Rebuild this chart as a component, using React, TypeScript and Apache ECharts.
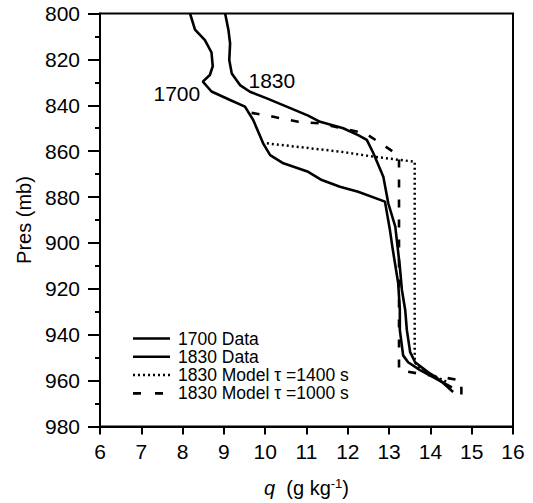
import React, { useEffect, useRef } from "react";
import * as echarts from "echarts";

const xTicks = [6, 16, 1];
const yTicks = [800, 980, 20];

const data1700: [number, number][] = [
  [8.18, 800], [8.3, 807], [8.54, 811.6], [8.7, 817], [8.73, 823], [8.66, 826.8],
  [8.49, 829.7], [8.7, 834], [9.15, 837.7], [9.51, 840.6], [9.71, 846.4], [9.95, 856.6],
  [10.12, 861.7], [10.44, 865.3], [11.04, 869], [11.37, 872.6], [11.81, 875.5],
  [12.25, 877.7], [12.9, 882], [13.02, 894.4], [13.09, 903], [13.22, 917.5],
  [13.26, 929], [13.26, 938], [13.34, 949], [13.46, 952], [13.75, 955.4],
  [14.11, 958.9], [14.52, 963],
];

const data1830: [number, number][] = [
  [9.03, 800], [9.11, 807.2], [9.15, 813], [9.13, 820.3], [9.19, 826.1], [9.39, 831.2],
  [9.63, 834.1], [10.04, 837], [10.52, 840.6], [11.04, 844.5], [11.33, 847.2],
  [11.89, 850], [12.25, 853], [12.46, 855.1], [12.62, 860.9], [12.86, 871.1],
  [12.98, 882.7], [13.15, 892.9], [13.26, 910.4], [13.31, 920.5], [13.39, 929.2],
  [13.43, 938], [13.51, 947.6], [13.63, 952], [13.94, 956.3], [14.23, 959.8], [14.55, 965],
];

const model1400: [number, number][] = [
  [10.04, 856.6], [11.81, 860.2], [12.62, 862.4], [13.62, 864.6], [13.62, 952],
  [13.8, 955.5], [14.1, 958], [14.45, 961],
];

const model1000: [number, number][] = [
  [9.67, 843.3], [10.2, 845], [10.8, 847.2], [11.33, 847.9], [12.42, 852.2],
  [12.86, 857.3], [13.24, 862], [13.24, 955.5], [13.8, 957.2], [14.35, 958.7],
  [14.75, 960], [14.75, 966],
];

const curveLabels: { name: string; q: number; p: number }[] = [
  { name: "1700", q: 7.86, p: 835 },
  { name: "1830", q: 10.16, p: 829 },
];

const names = ["1700 Data", "1830 Data", "1830 Model \u03c4 =1400 s", "1830 Model \u03c4 =1000 s"];
const legendDash: any[] = ["solid", "solid", [2, 3], [8, 14]];

const FONT = "Liberation Sans";

export default function App() {
  const ref = useRef<HTMLDivElement>(null);
  useEffect(() => {
    if (!ref.current) return;
    const chart = echarts.init(ref.current, undefined, { renderer: "svg" });
    const lineSeries = (name: string, data: [number, number][], type: any, width: number) => ({
      name,
      type: "line",
      data,
      showSymbol: false,
      symbol: "none",
      smooth: false,
      lineStyle: { color: "#000", width, type, cap: "butt" },
      itemStyle: { color: "#000" },
      z: 3,
    });
    chart.setOption({
      animation: false,
      backgroundColor: "#fff",
      textStyle: { fontFamily: FONT, color: "#000" },
      grid: {
        left: 100, right: 20, top: 13.5, bottom: 76.5,
        show: true, borderColor: "#000", borderWidth: 2, backgroundColor: "transparent",
      },
      xAxis: {
        type: "value",
        min: xTicks[0], max: xTicks[1], interval: xTicks[2],
        axisLine: { show: true, lineStyle: { color: "#000", width: 2 } },
        axisTick: { show: true, length: 8, lineStyle: { color: "#000", width: 2 } },
        splitLine: { show: false },
        axisLabel: { color: "#000", fontSize: 21, fontFamily: FONT, margin: 14 },
        name: "{i|q}  (g kg{s|-1})",
        nameLocation: "middle",
        nameGap: 50,
        nameTextStyle: {
          color: "#000", fontSize: 20, fontFamily: FONT,
          rich: {
            i: { fontStyle: "italic", fontSize: 20, fontFamily: FONT, color: "#000" },
            s: { fontSize: 13, fontFamily: FONT, color: "#000", verticalAlign: "top", padding: [0, 0, 10, 0] },
          },
        },
      },
      yAxis: {
        type: "value",
        inverse: true,
        min: yTicks[0], max: yTicks[1], interval: yTicks[2],
        axisLine: { show: true, lineStyle: { color: "#000", width: 2 } },
        axisTick: { show: true, length: 12, lineStyle: { color: "#000", width: 2 } },
        minorTick: { show: true, splitNumber: 2, length: 5, lineStyle: { color: "#000", width: 2 } },
        splitLine: { show: false },
        axisLabel: { color: "#000", fontSize: 21, fontFamily: FONT, margin: 20 },
        name: "Pres (mb)",
        nameLocation: "middle",
        nameGap: 64,
        nameTextStyle: { color: "#000", fontSize: 20, fontFamily: FONT },
      },
      series: [
        lineSeries(names[0], data1700, "solid", 2.6),
        lineSeries(names[1], data1830, "solid", 2.6),
        lineSeries(names[2], model1400, [2, 3], 2.5),
        lineSeries(names[3], model1000, [8, 12], 2.6),
      ],
    });

    const graphics: any[] = [];
    curveLabels.forEach((c) => {
      const pt = chart.convertToPixel({ gridIndex: 0 }, [c.q, c.p]) as number[];
      graphics.push({
        type: "text",
        x: pt[0],
        y: pt[1],
        style: {
          text: c.name, fill: "#000", fontSize: 21, fontFamily: FONT,
          align: "center", verticalAlign: "middle",
        },
        z: 10,
      });
    });
    const rowY = [338.5, 356.8, 375.1, 393.4];
    names.forEach((n, i) => {
      graphics.push({
        type: "line",
        shape: { x1: 133, y1: rowY[i], x2: 170, y2: rowY[i] },
        style: { stroke: "#000", lineWidth: i === 2 ? 2.5 : 2.6, lineDash: legendDash[i] === "solid" ? null : legendDash[i] },
        z: 10,
      });
      graphics.push({
        type: "text",
        x: 178,
        y: rowY[i],
        style: {
          text: n, fill: "#000", fontSize: 17.5, lineHeight: 17.5, fontFamily: FONT,
          align: "left", verticalAlign: "middle",
        },
        z: 10,
      });
    });
    chart.setOption({ graphic: graphics });
    return () => chart.dispose();
  }, []);
  return (
    <div
      ref={ref}
      style={{ position: "absolute", left: 0, top: 0, width: 533, height: 503 }}
    />
  );
}
